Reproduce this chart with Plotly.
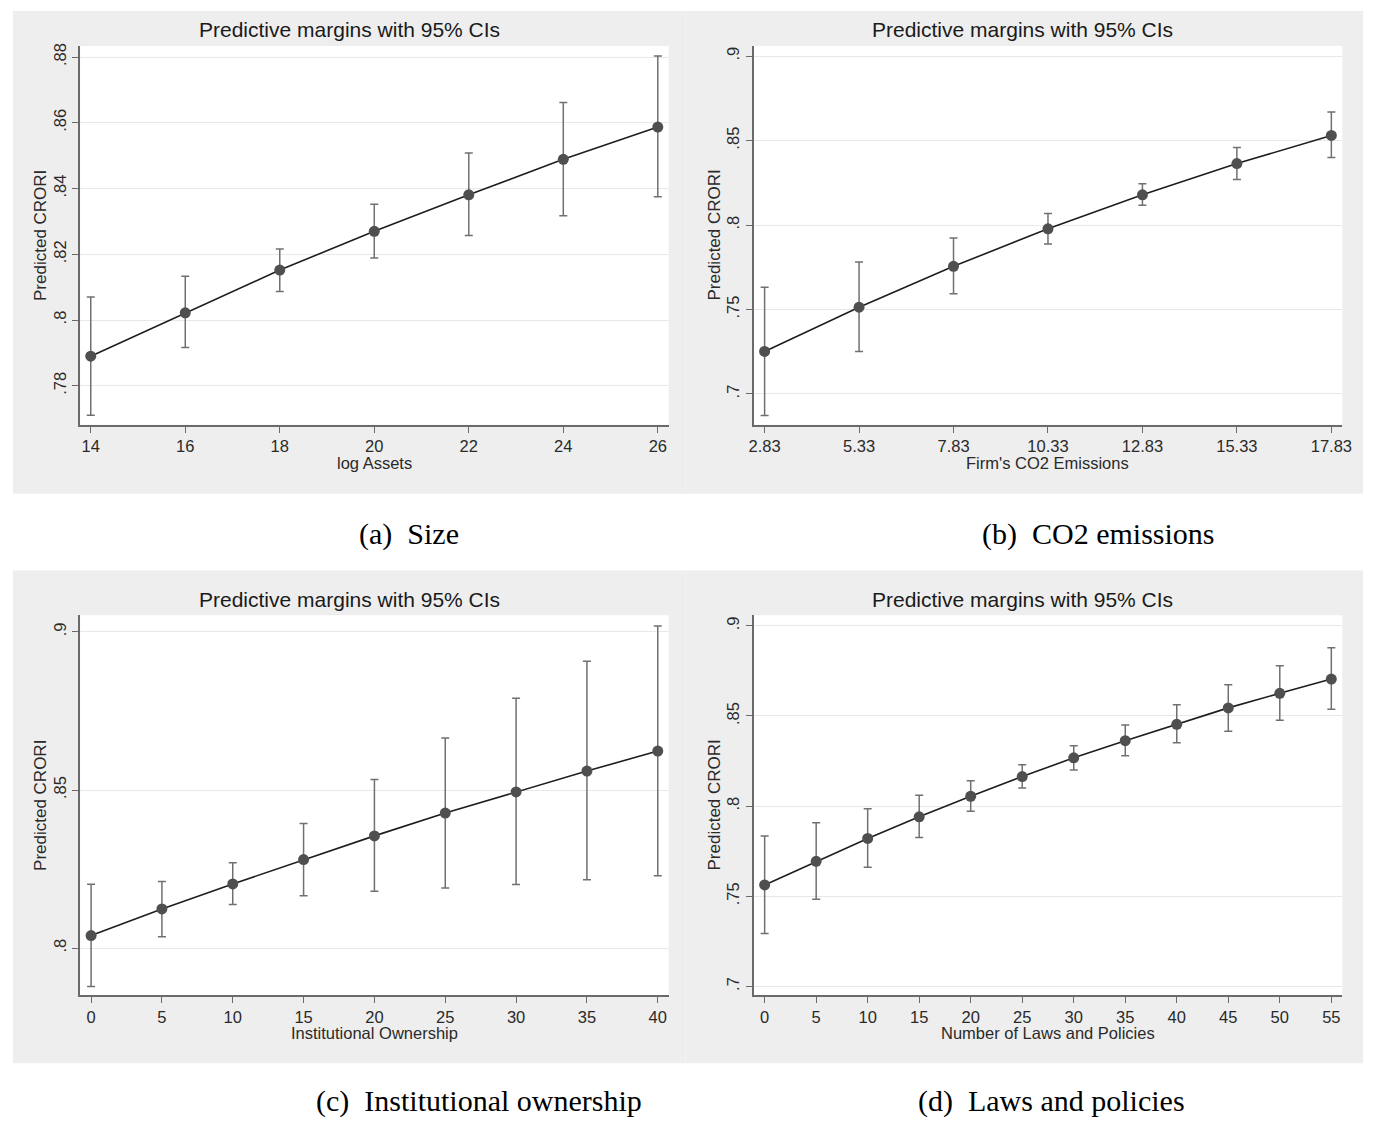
import plotly.graph_objects as go

W, H = 1373, 1121

# ---------------- data ----------------
# (a) Size
size_x = [14, 16, 18, 20, 22, 24, 26]
size_y = [0.7890, 0.8022, 0.8152, 0.8270, 0.8381, 0.8489, 0.8587]
size_lo = [0.7710, 0.7916, 0.8087, 0.8189, 0.8257, 0.8317, 0.8375]
size_hi = [0.8070, 0.8133, 0.8216, 0.8352, 0.8508, 0.8662, 0.8803]
size_xticktext = ["14", "16", "18", "20", "22", "24", "26"]
size_yticks = [0.78, 0.80, 0.82, 0.84, 0.86, 0.88]
size_yticktext = [".78", ".8", ".82", ".84", ".86", ".88"]

# (b) CO2 emissions
co2_x = [2.83, 5.33, 7.83, 10.33, 12.83, 15.33, 17.83]
co2_y = [0.7252, 0.7514, 0.7756, 0.7978, 0.8179, 0.8364, 0.8531]
co2_lo = [0.6872, 0.7252, 0.7593, 0.7888, 0.8118, 0.8270, 0.8400]
co2_hi = [0.7632, 0.7782, 0.7923, 0.8069, 0.8244, 0.8459, 0.8669]
co2_xticktext = ["2.83", "5.33", "7.83", "10.33", "12.83", "15.33", "17.83"]
co2_yticks = [0.70, 0.75, 0.80, 0.85, 0.90]
co2_yticktext = [".7", ".75", ".8", ".85", ".9"]

# (c) Institutional ownership
inst_x = [0, 5, 10, 15, 20, 25, 30, 35, 40]
inst_y = [0.8040, 0.8124, 0.8203, 0.8280, 0.8355, 0.8427, 0.8494, 0.8560, 0.8623]
inst_lo = [0.7879, 0.8036, 0.8138, 0.8166, 0.8180, 0.8190, 0.8201, 0.8216, 0.8229]
inst_hi = [0.8202, 0.8211, 0.8270, 0.8394, 0.8533, 0.8664, 0.8790, 0.8907, 0.9018]
inst_xticktext = ["0", "5", "10", "15", "20", "25", "30", "35", "40"]
inst_yticks = [0.80, 0.85, 0.90]
inst_yticktext = [".8", ".85", ".9"]

# (d) Laws and policies
laws_x = [0, 5, 10, 15, 20, 25, 30, 35, 40, 45, 50, 55]
laws_y = [0.7563, 0.7694, 0.7821, 0.7941, 0.8055, 0.8164, 0.8268, 0.8363,
          0.8454, 0.8545, 0.8626, 0.8705]
laws_lo = [0.7294, 0.7484, 0.7661, 0.7826, 0.7972, 0.8101, 0.8200, 0.8280,
           0.8351, 0.8416, 0.8477, 0.8538]
laws_hi = [0.7835, 0.7908, 0.7986, 0.8061, 0.8141, 0.8230, 0.8335, 0.8450,
           0.8563, 0.8673, 0.8779, 0.8878]
laws_xticktext = ["0", "5", "10", "15", "20", "25", "30", "35", "40", "45", "50", "55"]
laws_yticks = [0.70, 0.75, 0.80, 0.85, 0.90]
laws_yticktext = [".7", ".75", ".8", ".85", ".9"]

plot_title = "Predictive margins with 95% CIs"
y_title = "Predicted CRORI"
x_titles = ["log Assets", "Firm's CO2 Emissions", "Institutional Ownership",
            "Number of Laws and Policies"]
captions = ["(a)\u00a0\u00a0Size", "(b)\u00a0\u00a0CO2 emissions",
            "(c)\u00a0\u00a0Institutional ownership", "(d)\u00a0\u00a0Laws and policies"]

panels = [
    (size_x, size_y, size_lo, size_hi, size_xticktext, size_yticks, size_yticktext),
    (co2_x, co2_y, co2_lo, co2_hi, co2_xticktext, co2_yticks, co2_yticktext),
    (inst_x, inst_y, inst_lo, inst_hi, inst_xticktext, inst_yticks, inst_yticktext),
    (laws_x, laws_y, laws_lo, laws_hi, laws_xticktext, laws_yticks, laws_yticktext),
]

# ---------------- layout geometry (pixels) ----------------
# plot-area boxes: left, right, top, bottom
boxes = [(76, 671, 43, 423), (757, 1352, 43, 423),
         (76, 671, 614, 995), (757, 1352, 614, 995)]
xranges = [[13.776, 26.23], [2.542, 18.118], [-0.77, 40.77], [-1.06, 56.06]]
yranges = [[0.7681, 0.8834], [0.6817, 0.9061], [0.7851, 0.9052], [0.6951, 0.9058]]
gray_boxes = [(8, 688, 8, 492), (688, 1373, 8, 492),
              (8, 688, 569, 1063), (688, 1373, 569, 1063)]
title_pos = [(348, 27), (1029, 27), (348, 598), (1029, 598)]
caption_pos = [(408, 532), (1106, 532), (479, 1101), (1058, 1101)]

GRAY_BG = "#eeeeee"
AXIS_COL = "#6a6a6a"
FONT = "Liberation Sans, Arial, sans-serif"


def px(x):
    return x / W


def py(y):
    return 1 - y / H


fig = go.Figure()
shapes = []
annotations = []
layout_axes = {}

for i, (xs, ys, lo, hi, xtt, ytv, ytt) in enumerate(panels):
    n = i + 1
    xa = "x" if n == 1 else f"x{n}"
    ya = "y" if n == 1 else f"y{n}"
    err_plus = [h - m for h, m in zip(hi, ys)]
    err_minus = [m - l for m, l in zip(ys, lo)]
    fig.add_trace(go.Scatter(
        x=xs, y=ys, mode="lines+markers", xaxis=xa, yaxis=ya,
        line=dict(color="#1e1e1e", width=1.6),
        marker=dict(size=11, color="#4f4f4f"),
        error_y=dict(type="data", symmetric=False, array=err_plus,
                     arrayminus=err_minus, color="#707070", thickness=1.5, width=4),
        showlegend=False, hoverinfo="x+y",
    ))
    L, R, T, B = boxes[i]
    gl, gr, gt, gb = gray_boxes[i]
    shapes.append(dict(type="rect", xref="paper", yref="paper",
                       x0=px(gl), x1=px(gr), y0=py(gb), y1=py(gt),
                       fillcolor=GRAY_BG, line=dict(width=0), layer="below"))
    shapes.append(dict(type="rect", xref="paper", yref="paper",
                       x0=px(L), x1=px(R), y0=py(B), y1=py(T),
                       fillcolor="white", line=dict(width=0), layer="below"))
    xkey = "xaxis" if n == 1 else f"xaxis{n}"
    ykey = "yaxis" if n == 1 else f"yaxis{n}"
    layout_axes[xkey] = dict(
        domain=[px(L), px(R)], anchor=ya, range=xranges[i],
        tickmode="array", tickvals=xs, ticktext=xtt,
        showgrid=False, zeroline=False, showline=True, linecolor=AXIS_COL,
        linewidth=1.5, ticks="outside", ticklen=6, tickwidth=1.3,
        tickcolor=AXIS_COL, tickfont=dict(size=16.5, color="#2a2a2a", family=FONT),
    )
    layout_axes[ykey] = dict(
        domain=[py(B), py(T)], anchor=xa, range=yranges[i],
        tickmode="array", tickvals=ytv, ticktext=ytt, tickangle=-90,
        showgrid=True, gridcolor="#e8e8e8", gridwidth=1.2,
        zeroline=False, showline=True, linecolor=AXIS_COL, linewidth=1.5,
        ticks="outside", ticklen=6, tickwidth=1.3, tickcolor=AXIS_COL,
        tickfont=dict(size=16.5, color="#2a2a2a", family=FONT),
    )
    cx = (L + R) / 2
    tx, ty = title_pos[i]
    annotations.append(dict(
        text=plot_title, xref="paper", yref="paper", x=px(tx), y=py(ty),
        xanchor="center", yanchor="middle", showarrow=False,
        font=dict(size=21, color="#1a1a1a", family=FONT)))
    annotations.append(dict(
        text=x_titles[i], xref="paper", yref="paper", x=px(cx),
        y=py(B + 38), xanchor="center", yanchor="middle", showarrow=False,
        font=dict(size=16.5, color="#2a2a2a", family=FONT)))
    annotations.append(dict(
        text=y_title, xref="paper", yref="paper", x=px(L - 40),
        y=py((T + B) / 2), xanchor="center", yanchor="middle", textangle=-90,
        showarrow=False, font=dict(size=17, color="#2a2a2a", family=FONT)))
    cxp, cyp = caption_pos[i]
    annotations.append(dict(
        text=captions[i], xref="paper", yref="paper", x=px(cxp), y=py(cyp),
        xanchor="center", yanchor="middle", showarrow=False,
        font=dict(size=30, color="#000000",
                  family="Liberation Serif, Times New Roman, serif")))

fig.update_layout(
    width=W, height=H, margin=dict(l=0, r=0, t=0, b=0),
    paper_bgcolor="white", plot_bgcolor="rgba(0,0,0,0)",
    shapes=shapes, annotations=annotations, showlegend=False,
    **layout_axes,
)

fig.write_html(
    "out.html",
    config={"displayModeBar": False},
    post_script="document.body.style.margin='0';document.body.style.overflow='hidden';",
)
